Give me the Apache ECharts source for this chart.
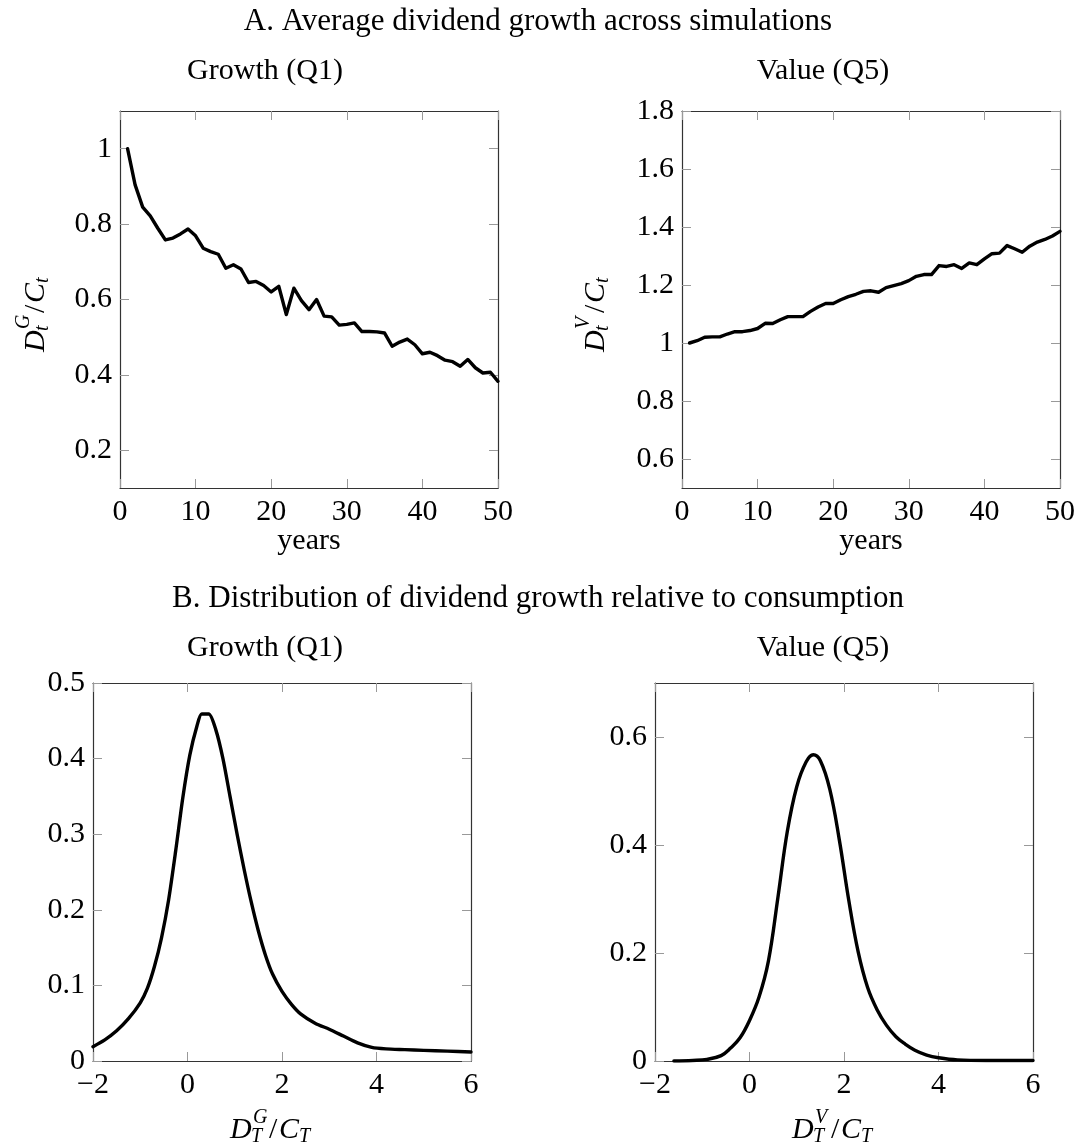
<!DOCTYPE html>
<html>
<head>
<meta charset="utf-8">
<script src="https://cdn.jsdelivr.net/npm/echarts@6/dist/echarts.min.js"></script>
<style>html,body{margin:0;padding:0;background:#fff}#c{width:1077px;height:1146px}</style>
</head>
<body>
<div id="c"></div>
<script>
// ---------- data ----------
const years = [1,2,3,4,5,6,7,8,9,10,11,12,13,14,15,16,17,18,19,20,21,22,23,24,25,26,27,28,29,30,31,32,33,34,35,36,37,38,39,40,41,42,43,44,45,46,47,48,49,50];
const growthAvg = [1.000,0.904,0.845,0.822,0.789,0.758,0.763,0.774,0.787,0.769,0.736,0.727,0.720,0.683,0.692,0.681,0.645,0.648,0.637,0.620,0.635,0.560,0.630,0.597,0.573,0.600,0.556,0.554,0.532,0.534,0.538,0.515,0.515,0.514,0.511,0.476,0.487,0.495,0.480,0.456,0.460,0.451,0.439,0.435,0.423,0.441,0.419,0.405,0.407,0.383];
const valueAvg = [1.000,1.008,1.020,1.021,1.021,1.031,1.039,1.039,1.043,1.050,1.068,1.067,1.080,1.091,1.091,1.091,1.109,1.124,1.136,1.136,1.149,1.160,1.168,1.178,1.180,1.175,1.191,1.198,1.205,1.215,1.230,1.236,1.236,1.267,1.264,1.270,1.257,1.276,1.270,1.290,1.308,1.310,1.336,1.325,1.313,1.334,1.348,1.357,1.369,1.385];

const growthDensX = [-2.0,-1.75,-1.5,-1.25,-1.0,-0.85,-0.7,-0.55,-0.4,-0.25,-0.1,0.05,0.2,0.3,0.45,0.6,0.75,0.9,1.05,1.2,1.35,1.5,1.65,1.8,2.0,2.2,2.4,2.7,3.0,3.3,3.6,3.9,4.2,4.6,5.0,5.5,6.0];
const growthDensY = [0.019,0.028,0.040,0.056,0.077,0.096,0.125,0.163,0.213,0.278,0.348,0.405,0.443,0.459,0.459,0.438,0.400,0.350,0.300,0.253,0.210,0.172,0.140,0.115,0.092,0.075,0.062,0.050,0.042,0.033,0.024,0.018,0.016,0.015,0.014,0.013,0.012];

const valueDensX = [-1.6,-1.2,-0.9,-0.6,-0.4,-0.2,0.0,0.2,0.4,0.6,0.8,1.0,1.2,1.35,1.5,1.7,1.9,2.1,2.3,2.5,2.7,2.9,3.1,3.3,3.5,3.75,4.0,4.4,5.0,6.0];
const valueDensY = [0.000,0.001,0.003,0.010,0.024,0.043,0.075,0.118,0.185,0.302,0.425,0.508,0.554,0.567,0.556,0.503,0.410,0.298,0.202,0.136,0.095,0.066,0.045,0.031,0.020,0.011,0.006,0.002,0.001,0.001];

// tick values
const yearTicks = [0,10,20,30,40,50];
const growthAvgTicks = [0.2,0.4,0.6,0.8,1];
const valueAvgTicks = [0.6,0.8,1,1.2,1.4,1.6,1.8];
const densXTicks = [-2,0,2,4,6];
const growthDensTicks = [0,0.1,0.2,0.3,0.4,0.5];
const valueDensTicks = [0,0.2,0.4,0.6];

// text
const titleA = 'A. Average dividend growth across simulations';
const titleB = 'B. Distribution of dividend growth relative to consumption';
const subG = 'Growth (Q1)';
const subV = 'Value (Q5)';
const xNameA = 'years';

// ---------- layout ----------
const FONT = 'Liberation Serif';
const FS = 30;
const grids = [
  {left:120, top:111, width:378, height:377},
  {left:682, top:111, width:378, height:377},
  {left:93,  top:683, width:378, height:378},
  {left:655, top:683, width:378, height:378}
];
const ranges = [
  {x:[0,50], y:[0.1,1.1], xt:yearTicks, yt:growthAvgTicks},
  {x:[0,50], y:[0.5,1.8], xt:yearTicks, yt:valueAvgTicks},
  {x:[-2,6], y:[0,0.5], xt:densXTicks, yt:growthDensTicks},
  {x:[-2,6], y:[0,0.7], xt:densXTicks, yt:valueDensTicks}
];
const fmt = v => (v < 0 ? '\u2212' + (-v) : String(v));

const xAxis = [], yAxis = [];
ranges.forEach((r, i) => {
  const common = {
    type:'value', gridIndex:i, splitLine:{show:false},
    axisLine:{show:true, onZero:false, lineStyle:{color:'#333', width:1.2}},
  };
  xAxis.push(Object.assign({}, common, {
    position:'bottom', min:r.x[0], max:r.x[1],
    axisTick:{show:true, inside:true, length:9, customValues:r.xt, lineStyle:{color:'#999', width:1}},
    axisLabel:{show:true, customValues:r.xt, formatter:fmt, margin:9, color:'#000', fontFamily:FONT, fontSize:FS}
  }));
  xAxis.push(Object.assign({}, common, {
    position:'top', min:r.x[0], max:r.x[1],
    axisTick:{show:true, inside:true, length:9, customValues:r.xt, lineStyle:{color:'#999', width:1}},
    axisLabel:{show:false}
  }));
  yAxis.push(Object.assign({}, common, {
    position:'left', min:r.y[0], max:r.y[1],
    axisTick:{show:true, inside:true, length:9, customValues:r.yt, lineStyle:{color:'#999', width:1}},
    axisLabel:{show:true, customValues:r.yt, formatter:fmt, margin:8, color:'#000', fontFamily:FONT, fontSize:FS}
  }));
  yAxis.push(Object.assign({}, common, {
    position:'right', min:r.y[0], max:r.y[1],
    axisTick:{show:true, inside:true, length:9, customValues:r.yt, lineStyle:{color:'#999', width:1}},
    axisLabel:{show:false}
  }));
});

function pairs(xs, ys){ return xs.map((x, k) => [x, ys[k]]); }
const lineStyle = {color:'#000', width:3.4, join:'round', cap:'round'};
const series = [
  {type:'line', xAxisIndex:0, yAxisIndex:0, data:pairs(years, growthAvg), showSymbol:false, lineStyle},
  {type:'line', xAxisIndex:2, yAxisIndex:2, data:pairs(years, valueAvg), showSymbol:false, lineStyle},
  {type:'line', xAxisIndex:4, yAxisIndex:4, data:pairs(growthDensX, growthDensY), showSymbol:false, smooth:0.25, lineStyle},
  {type:'line', xAxisIndex:6, yAxisIndex:6, data:pairs(valueDensX, valueDensY), showSymbol:false, smooth:0.4, lineStyle}
];

function txt(x, y, s, extra){
  return {type:'text', x, y, silent:true, style:Object.assign({
    text:s, fontFamily:FONT, fontSize:FS, fill:'#000',
    textAlign:'center', textVerticalAlign:'middle', align:'center', verticalAlign:'middle'
  }, extra || {})};
}
// math label  D_{sub1}^{sup} / C_{sub2}
function mathLabel(cx, cy, rot, sup, sub1, sub2){
  const it = {fontStyle:'italic', textAlign:'left', align:'left'};
  const sm = {fontStyle:'italic', fontSize:20, textAlign:'left', align:'left'};
  const up = {textAlign:'left', align:'left'};
  const off = -8;
  return {
    type:'group', x:cx, y:cy, rotation: rot ? Math.PI/2 : 0, silent:true,
    children:[
      txt(-44+off, 0, 'D', it),
      txt(-21+off, -12, sup, sm),
      txt(-23+off, 7, sub1, sm),
      txt(-5+off, 0, '/', up),
      txt(5+off, 0, 'C', it),
      txt(25+off, 7, sub2, sm)
    ]
  };
}

const graphic = [
  txt(538, 22, titleA, {fontSize:31}),
  txt(265, 71, subG),
  txt(823, 71, subV),
  txt(309, 541, xNameA),
  txt(871, 541, xNameA),
  txt(538, 599, titleB, {fontSize:31}),
  txt(265, 648, subG),
  txt(823, 648, subV),
  mathLabel(36, 300, true, 'G', 't', 't'),
  mathLabel(596, 300, true, 'V', 't', 't'),
  mathLabel(282, 1130, false, 'G', 'T', 'T'),
  mathLabel(844, 1130, false, 'V', 'T', 'T')
];

const chart = echarts.init(document.getElementById('c'), null, {renderer:'canvas'});
chart.setOption({
  animation:false,
  backgroundColor:'#fff',
  grid: grids.map(g => Object.assign({outerBoundsMode:'none', containLabel:false}, g)),
  xAxis, yAxis, series, graphic
});
</script>
</body>
</html>
